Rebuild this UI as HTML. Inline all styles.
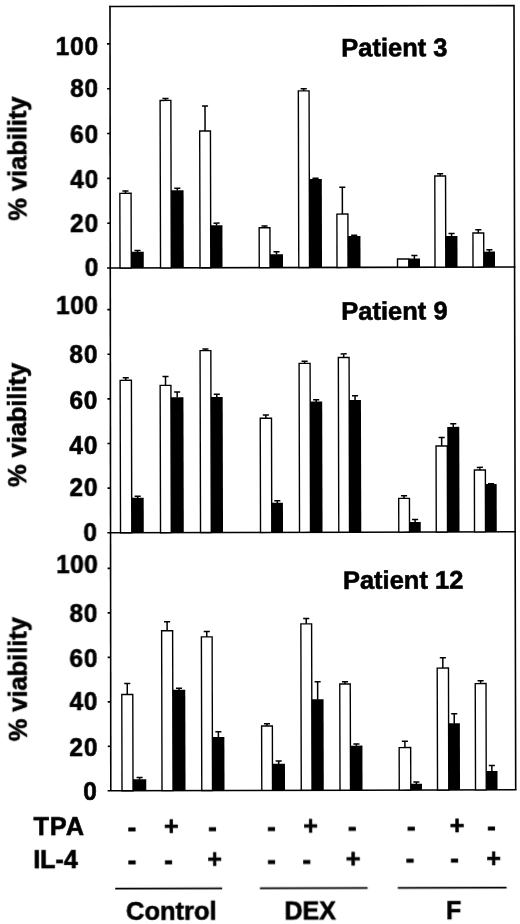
<!DOCTYPE html>
<html><head><meta charset="utf-8"><title>Viability chart</title>
<style>html,body{margin:0;padding:0;background:#fff}body{width:520px;height:924px;overflow:hidden;font-family:"Liberation Sans",sans-serif}svg{display:block}</style>
</head><body>
<svg width="520" height="924" viewBox="0 0 520 924">
<rect width="520" height="924" fill="#fff"/>
<defs><filter id="soft" x="-2%" y="-2%" width="104%" height="104%"><feGaussianBlur stdDeviation="0.35"/></filter></defs>
<g filter="url(#soft)"><g transform="rotate(-0.1432 110.0 6.5)">
<g stroke="#060606" stroke-width="1.6" fill="none">
<path d="M109.20 6.51H514.00L513.74 790.81"/>
<path d="M110.00 5.70L108.84 790.80"/>
<path d="M106.41 268.00H514.71"/>
<path d="M106.02 532.80H514.63"/>
<path d="M105.64 790.80H514.54"/>
<path d="M106.68 223.17H109.68"/>
<path d="M106.75 178.34H109.75"/>
<path d="M106.81 133.51H109.81"/>
<path d="M106.88 88.68H109.88"/>
<path d="M106.94 43.85H109.94"/>
<path d="M106.29 488.16H109.29"/>
<path d="M106.35 443.52H109.35"/>
<path d="M106.42 398.88H109.42"/>
<path d="M106.49 354.24H109.49"/>
<path d="M106.55 309.60H109.55"/>
<path d="M105.91 746.32H108.91"/>
<path d="M105.97 701.84H108.97"/>
<path d="M106.04 657.36H109.04"/>
<path d="M106.10 612.88H109.10"/>
<path d="M106.17 568.40H109.17"/>
</g>
<rect x="119.37" y="193.36" width="11.25" height="74.64" fill="#fff" stroke="#060606" stroke-width="1.4"/>
<rect x="130.62" y="251.91" width="12.50" height="16.09" fill="#060606"/>
<path d="M125.00 193.36V191.12M121.95 191.12H128.05" stroke="#060606" stroke-width="1.5" fill="none"/>
<path d="M136.87 252.31V250.52M133.82 250.52H139.92" stroke="#060606" stroke-width="1.5" fill="none"/>
<rect x="159.87" y="100.56" width="10.75" height="167.44" fill="#fff" stroke="#060606" stroke-width="1.4"/>
<rect x="170.62" y="190.49" width="12.50" height="77.51" fill="#060606"/>
<path d="M165.25 100.56V98.54M162.20 98.54H168.30" stroke="#060606" stroke-width="1.5" fill="none"/>
<path d="M176.87 190.89V188.43M173.82 188.43H179.92" stroke="#060606" stroke-width="1.5" fill="none"/>
<rect x="199.37" y="131.27" width="10.75" height="136.73" fill="#fff" stroke="#060606" stroke-width="1.4"/>
<rect x="210.12" y="225.46" width="11.75" height="42.54" fill="#060606"/>
<path d="M204.75 131.27V106.16M201.70 106.16H207.80" stroke="#060606" stroke-width="1.5" fill="none"/>
<path d="M216.00 225.86V223.39M212.95 223.39H219.05" stroke="#060606" stroke-width="1.5" fill="none"/>
<rect x="258.62" y="228.10" width="10.75" height="39.90" fill="#fff" stroke="#060606" stroke-width="1.4"/>
<rect x="269.37" y="254.60" width="13.00" height="13.40" fill="#060606"/>
<path d="M264.00 228.10V226.31M260.95 226.31H267.05" stroke="#060606" stroke-width="1.5" fill="none"/>
<path d="M275.87 255.00V252.09M272.82 252.09H278.92" stroke="#060606" stroke-width="1.5" fill="none"/>
<rect x="298.12" y="91.37" width="10.75" height="176.63" fill="#fff" stroke="#060606" stroke-width="1.4"/>
<rect x="308.87" y="179.51" width="12.50" height="88.49" fill="#060606"/>
<path d="M303.50 91.37V89.13M300.45 89.13H306.55" stroke="#060606" stroke-width="1.5" fill="none"/>
<path d="M315.12 179.91V178.79M312.07 178.79H318.17" stroke="#060606" stroke-width="1.5" fill="none"/>
<rect x="336.37" y="214.65" width="11.00" height="53.35" fill="#fff" stroke="#060606" stroke-width="1.4"/>
<rect x="347.37" y="236.67" width="12.50" height="31.33" fill="#060606"/>
<path d="M341.87 214.65V187.75M338.82 187.75H344.92" stroke="#060606" stroke-width="1.5" fill="none"/>
<path d="M353.62 237.07V235.95M350.57 235.95H356.67" stroke="#060606" stroke-width="1.5" fill="none"/>
<rect x="396.87" y="259.71" width="11.25" height="8.29" fill="#fff" stroke="#060606" stroke-width="1.4"/>
<rect x="408.12" y="259.31" width="11.25" height="8.69" fill="#060606"/>
<path d="M413.75 259.71V256.34M410.70 256.34H416.80" stroke="#060606" stroke-width="1.5" fill="none"/>
<rect x="434.37" y="176.77" width="10.75" height="91.23" fill="#fff" stroke="#060606" stroke-width="1.4"/>
<rect x="445.12" y="236.89" width="11.75" height="31.11" fill="#060606"/>
<path d="M439.75 176.77V174.53M436.70 174.53H442.80" stroke="#060606" stroke-width="1.5" fill="none"/>
<path d="M451.00 237.29V234.38M447.95 234.38H454.05" stroke="#060606" stroke-width="1.5" fill="none"/>
<rect x="472.37" y="233.93" width="10.75" height="34.07" fill="#fff" stroke="#060606" stroke-width="1.4"/>
<rect x="483.12" y="252.58" width="11.25" height="15.42" fill="#060606"/>
<path d="M477.75 233.93V230.57M474.70 230.57H480.80" stroke="#060606" stroke-width="1.5" fill="none"/>
<path d="M488.75 252.98V250.74M485.70 250.74H491.80" stroke="#060606" stroke-width="1.5" fill="none"/>
<rect x="119.21" y="380.35" width="11.25" height="152.45" fill="#fff" stroke="#060606" stroke-width="1.4"/>
<rect x="130.46" y="497.80" width="12.00" height="35.00" fill="#060606"/>
<path d="M124.83 380.35V377.68M121.78 377.68H127.88" stroke="#060606" stroke-width="1.5" fill="none"/>
<path d="M136.46 498.20V496.42M133.41 496.42H139.51" stroke="#060606" stroke-width="1.5" fill="none"/>
<rect x="159.21" y="385.49" width="10.75" height="147.31" fill="#fff" stroke="#060606" stroke-width="1.4"/>
<rect x="169.96" y="397.36" width="12.50" height="135.44" fill="#060606"/>
<path d="M164.58 385.49V376.56M161.53 376.56H167.63" stroke="#060606" stroke-width="1.5" fill="none"/>
<path d="M176.21 397.76V392.18M173.16 392.18H179.26" stroke="#060606" stroke-width="1.5" fill="none"/>
<rect x="199.21" y="350.89" width="10.75" height="181.91" fill="#fff" stroke="#060606" stroke-width="1.4"/>
<rect x="209.96" y="397.36" width="11.75" height="135.44" fill="#060606"/>
<path d="M204.58 350.89V349.33M201.53 349.33H207.63" stroke="#060606" stroke-width="1.5" fill="none"/>
<path d="M215.83 397.76V394.42M212.78 394.42H218.88" stroke="#060606" stroke-width="1.5" fill="none"/>
<rect x="259.21" y="418.63" width="11.25" height="114.17" fill="#fff" stroke="#060606" stroke-width="1.4"/>
<rect x="270.46" y="503.16" width="11.25" height="29.64" fill="#060606"/>
<path d="M264.83 418.63V415.29M261.78 415.29H267.88" stroke="#060606" stroke-width="1.5" fill="none"/>
<path d="M276.08 503.56V501.11M273.03 501.11H279.13" stroke="#060606" stroke-width="1.5" fill="none"/>
<rect x="298.21" y="363.84" width="11.00" height="168.96" fill="#fff" stroke="#060606" stroke-width="1.4"/>
<rect x="309.21" y="402.05" width="12.00" height="130.75" fill="#060606"/>
<path d="M303.71 363.84V361.83M300.66 361.83H306.76" stroke="#060606" stroke-width="1.5" fill="none"/>
<path d="M315.21 402.45V400.22M312.16 400.22H318.26" stroke="#060606" stroke-width="1.5" fill="none"/>
<rect x="337.46" y="358.03" width="10.75" height="174.77" fill="#fff" stroke="#060606" stroke-width="1.4"/>
<rect x="348.21" y="400.71" width="11.75" height="132.09" fill="#060606"/>
<path d="M342.83 358.03V354.46M339.78 354.46H345.88" stroke="#060606" stroke-width="1.5" fill="none"/>
<path d="M354.08 401.11V396.42M351.03 396.42H357.13" stroke="#060606" stroke-width="1.5" fill="none"/>
<rect x="397.46" y="499.10" width="10.75" height="33.70" fill="#fff" stroke="#060606" stroke-width="1.4"/>
<rect x="408.21" y="522.80" width="11.25" height="10.00" fill="#060606"/>
<path d="M402.83 499.10V496.42M399.78 496.42H405.88" stroke="#060606" stroke-width="1.5" fill="none"/>
<path d="M413.83 523.20V520.30M410.78 520.30H416.88" stroke="#060606" stroke-width="1.5" fill="none"/>
<rect x="434.96" y="446.87" width="11.25" height="85.93" fill="#fff" stroke="#060606" stroke-width="1.4"/>
<rect x="446.21" y="427.72" width="12.00" height="105.08" fill="#060606"/>
<path d="M440.58 446.87V438.39M437.53 438.39H443.63" stroke="#060606" stroke-width="1.5" fill="none"/>
<path d="M452.21 428.12V424.55M449.16 424.55H455.26" stroke="#060606" stroke-width="1.5" fill="none"/>
<rect x="473.21" y="470.97" width="11.00" height="61.83" fill="#fff" stroke="#060606" stroke-width="1.4"/>
<rect x="484.21" y="484.86" width="11.25" height="47.94" fill="#060606"/>
<path d="M478.71 470.97V468.30M475.66 468.30H481.76" stroke="#060606" stroke-width="1.5" fill="none"/>
<path d="M489.83 485.26V484.59M486.78 484.59H492.88" stroke="#060606" stroke-width="1.5" fill="none"/>
<rect x="120.06" y="694.50" width="11.00" height="96.30" fill="#fff" stroke="#060606" stroke-width="1.4"/>
<rect x="131.06" y="779.28" width="13.25" height="11.52" fill="#060606"/>
<path d="M125.56 694.50V683.60M122.51 683.60H128.61" stroke="#060606" stroke-width="1.5" fill="none"/>
<path d="M137.69 779.68V777.46M134.64 777.46H140.74" stroke="#060606" stroke-width="1.5" fill="none"/>
<rect x="160.06" y="630.89" width="11.00" height="159.91" fill="#fff" stroke="#060606" stroke-width="1.4"/>
<rect x="171.06" y="689.88" width="12.50" height="100.92" fill="#060606"/>
<path d="M165.56 630.89V621.78M162.51 621.78H168.61" stroke="#060606" stroke-width="1.5" fill="none"/>
<path d="M177.31 690.28V688.50M174.26 688.50H180.36" stroke="#060606" stroke-width="1.5" fill="none"/>
<rect x="199.81" y="637.12" width="10.75" height="153.68" fill="#fff" stroke="#060606" stroke-width="1.4"/>
<rect x="210.56" y="737.25" width="12.00" height="53.55" fill="#060606"/>
<path d="M205.19 637.12V631.78M202.14 631.78H208.24" stroke="#060606" stroke-width="1.5" fill="none"/>
<path d="M216.56 737.65V732.09M213.51 732.09H219.61" stroke="#060606" stroke-width="1.5" fill="none"/>
<rect x="259.81" y="726.42" width="10.75" height="64.38" fill="#fff" stroke="#060606" stroke-width="1.4"/>
<rect x="270.56" y="764.27" width="12.50" height="26.53" fill="#060606"/>
<path d="M265.19 726.42V724.19M262.14 724.19H268.24" stroke="#060606" stroke-width="1.5" fill="none"/>
<path d="M276.81 764.67V761.33M273.76 761.33H279.86" stroke="#060606" stroke-width="1.5" fill="none"/>
<rect x="299.31" y="624.33" width="10.75" height="166.47" fill="#fff" stroke="#060606" stroke-width="1.4"/>
<rect x="310.06" y="699.77" width="11.75" height="91.03" fill="#060606"/>
<path d="M304.69 624.33V619.00M301.64 619.00H307.74" stroke="#060606" stroke-width="1.5" fill="none"/>
<path d="M315.94 700.17V682.38M312.89 682.38H318.99" stroke="#060606" stroke-width="1.5" fill="none"/>
<rect x="338.06" y="684.60" width="10.50" height="106.20" fill="#fff" stroke="#060606" stroke-width="1.4"/>
<rect x="348.56" y="746.25" width="12.00" height="44.55" fill="#060606"/>
<path d="M343.31 684.60V682.38M340.26 682.38H346.36" stroke="#060606" stroke-width="1.5" fill="none"/>
<path d="M354.56 746.65V744.65M351.51 744.65H357.61" stroke="#060606" stroke-width="1.5" fill="none"/>
<rect x="397.31" y="748.32" width="11.50" height="42.48" fill="#fff" stroke="#060606" stroke-width="1.4"/>
<rect x="408.81" y="784.62" width="11.25" height="6.18" fill="#060606"/>
<path d="M403.06 748.32V741.87M400.01 741.87H406.11" stroke="#060606" stroke-width="1.5" fill="none"/>
<path d="M414.44 785.02V782.79M411.39 782.79H417.49" stroke="#060606" stroke-width="1.5" fill="none"/>
<rect x="435.56" y="668.92" width="11.25" height="121.88" fill="#fff" stroke="#060606" stroke-width="1.4"/>
<rect x="446.81" y="724.12" width="11.25" height="66.68" fill="#060606"/>
<path d="M441.19 668.92V658.69M438.14 658.69H444.24" stroke="#060606" stroke-width="1.5" fill="none"/>
<path d="M452.44 724.52V714.52M449.39 714.52H455.49" stroke="#060606" stroke-width="1.5" fill="none"/>
<rect x="473.56" y="684.49" width="10.75" height="106.31" fill="#fff" stroke="#060606" stroke-width="1.4"/>
<rect x="484.31" y="771.94" width="11.25" height="18.86" fill="#060606"/>
<path d="M478.94 684.49V681.60M475.89 681.60H481.99" stroke="#060606" stroke-width="1.5" fill="none"/>
<path d="M489.94 772.34V766.34M486.89 766.34H492.99" stroke="#060606" stroke-width="1.5" fill="none"/>
<g font-family="Liberation Sans, sans-serif" font-weight="bold" fill="#060606" stroke="#060606" stroke-width="0.6" font-size="24.5" letter-spacing="0.8">
<text transform="translate(98.33 275.97) scale(1 1.080)" text-anchor="end">0</text>
<text transform="translate(98.44 231.77) scale(1 1.080)" text-anchor="end">20</text>
<text transform="translate(98.55 188.17) scale(1 1.080)" text-anchor="end">40</text>
<text transform="translate(98.66 143.17) scale(1 1.080)" text-anchor="end">60</text>
<text transform="translate(98.77 96.77) scale(1 1.080)" text-anchor="end">80</text>
<text transform="translate(98.88 54.57) scale(1 1.080)" text-anchor="end">100</text>
<text transform="translate(96.36 540.97) scale(1 1.080)" text-anchor="end">0</text>
<text transform="translate(97.08 495.97) scale(1 1.080)" text-anchor="end">20</text>
<text transform="translate(97.18 454.07) scale(1 1.080)" text-anchor="end">40</text>
<text transform="translate(97.29 408.97) scale(1 1.080)" text-anchor="end">60</text>
<text transform="translate(97.41 363.17) scale(1 1.080)" text-anchor="end">80</text>
<text transform="translate(97.53 314.47) scale(1 1.080)" text-anchor="end" letter-spacing="0.45">100</text>
<text transform="translate(95.72 799.87) scale(1 1.080)" text-anchor="end">0</text>
<text transform="translate(96.43 755.97) scale(1 1.080)" text-anchor="end">20</text>
<text transform="translate(96.54 710.37) scale(1 1.080)" text-anchor="end">40</text>
<text transform="translate(96.65 666.77) scale(1 1.080)" text-anchor="end">60</text>
<text transform="translate(96.76 622.27) scale(1 1.080)" text-anchor="end">80</text>
<text transform="translate(96.88 573.37) scale(1 1.080)" text-anchor="end" letter-spacing="0.45">100</text>
<text transform="translate(25.72 158.39) rotate(-90) scale(1 0.98)" font-size="25.4" letter-spacing="0" text-anchor="middle">% viability</text>
<text transform="translate(25.05 424.79) rotate(-90) scale(1 0.98)" font-size="25.4" letter-spacing="0" text-anchor="middle">% viability</text>
<text transform="translate(25.12 678.99) rotate(-90) scale(1 0.98)" font-size="25.4" letter-spacing="0" text-anchor="middle">% viability</text>
<text transform="translate(341.07 56.98) scale(1 1.000)" text-anchor="start" font-size="25.5" letter-spacing="0">Patient 3</text>
<text transform="translate(340.52 320.38) scale(1 1.000)" text-anchor="start" font-size="25.5" letter-spacing="0">Patient 9</text>
<text transform="translate(341.44 589.48) scale(1 1.000)" text-anchor="start" font-size="25.5" letter-spacing="0">Patient 12</text>
<text transform="translate(31.43 834.71) scale(1 0.985)" text-anchor="start" font-size="25.3" letter-spacing="0.9">TPA</text>
<text transform="translate(31.15 867.71) scale(1 1.000)" text-anchor="start" font-size="25" letter-spacing="0">IL-4</text>
<text transform="translate(169.12 919.95) scale(1 1.000)" text-anchor="middle" font-size="25.5" letter-spacing="0">Control</text>
<text transform="translate(308.02 920.00) scale(1 1.000)" text-anchor="middle" font-size="25" letter-spacing="0">DEX</text>
<text transform="translate(451.42 920.36) scale(1 1.000)" text-anchor="middle" font-size="25" letter-spacing="0">F</text>
<text transform="translate(130.03 835.75) scale(1 1.000)" text-anchor="middle" font-size="25" letter-spacing="0" stroke-width="0.9">-</text>
<text transform="translate(169.33 834.55) scale(1 1.000)" text-anchor="middle" font-size="25" letter-spacing="0">+</text>
<text transform="translate(210.33 835.95) scale(1 1.000)" text-anchor="middle" font-size="25" letter-spacing="0" stroke-width="0.9">-</text>
<text transform="translate(269.43 836.10) scale(1 1.000)" text-anchor="middle" font-size="25" letter-spacing="0" stroke-width="0.9">-</text>
<text transform="translate(308.43 834.90) scale(1 1.000)" text-anchor="middle" font-size="25" letter-spacing="0">+</text>
<text transform="translate(350.23 836.30) scale(1 1.000)" text-anchor="middle" font-size="25" letter-spacing="0" stroke-width="0.9">-</text>
<text transform="translate(409.23 835.55) scale(1 1.000)" text-anchor="middle" font-size="25" letter-spacing="0" stroke-width="0.9">-</text>
<text transform="translate(454.93 835.26) scale(1 1.000)" text-anchor="middle" font-size="25" letter-spacing="0">+</text>
<text transform="translate(489.33 835.75) scale(1 1.000)" text-anchor="middle" font-size="25" letter-spacing="0" stroke-width="0.9">-</text>
<text transform="translate(129.94 868.55) scale(1 1.000)" text-anchor="middle" font-size="25" letter-spacing="0" stroke-width="0.9">-</text>
<text transform="translate(166.34 868.64) scale(1 1.000)" text-anchor="middle" font-size="25" letter-spacing="0" stroke-width="0.9">-</text>
<text transform="translate(212.45 867.66) scale(1 1.000)" text-anchor="middle" font-size="25" letter-spacing="0">+</text>
<text transform="translate(269.34 868.90) scale(1 1.000)" text-anchor="middle" font-size="25" letter-spacing="0" stroke-width="0.9">-</text>
<text transform="translate(304.64 868.99) scale(1 1.000)" text-anchor="middle" font-size="25" letter-spacing="0" stroke-width="0.9">-</text>
<text transform="translate(350.95 868.01) scale(1 1.000)" text-anchor="middle" font-size="25" letter-spacing="0">+</text>
<text transform="translate(407.85 868.25) scale(1 1.000)" text-anchor="middle" font-size="25" letter-spacing="0" stroke-width="0.9">-</text>
<text transform="translate(452.45 868.36) scale(1 1.000)" text-anchor="middle" font-size="25" letter-spacing="0" stroke-width="0.9">-</text>
<text transform="translate(491.45 868.36) scale(1 1.000)" text-anchor="middle" font-size="25" letter-spacing="0">+</text>
</g>
<path d="M113.00 888.60L220.00 888.60" stroke="#060606" stroke-width="1.7"/>
<path d="M257.70 888.60L365.40 888.60" stroke="#060606" stroke-width="1.7"/>
<path d="M395.60 888.60L504.40 888.60" stroke="#060606" stroke-width="1.7"/>
</g></g>
</svg>
</body></html>
